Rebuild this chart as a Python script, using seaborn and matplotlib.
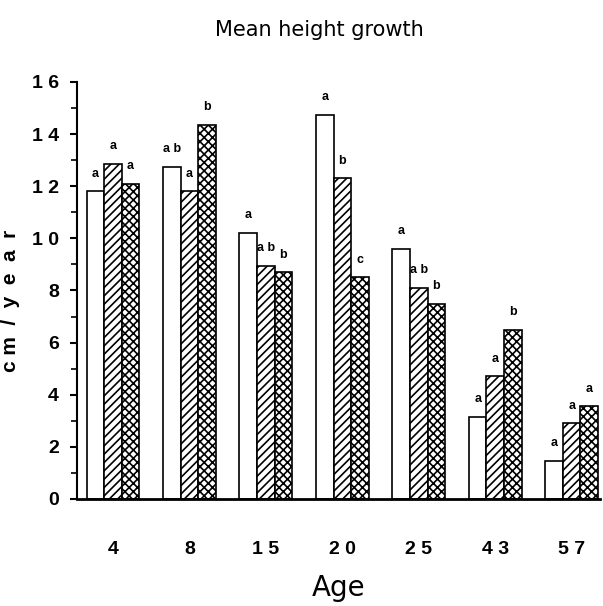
import matplotlib
matplotlib.use("Agg")
import matplotlib.pyplot as plt
import seaborn as sns
import pandas as pd
from matplotlib.ticker import MultipleLocator, FixedLocator

ages = ["4", "8", "15", "20", "25", "43", "57"]
age_labels = ["4", "8", "1 5", "2 0", "2 5", "4 3", "5 7"]
series_names = ["open", "hatched", "cross"]
open_vals = [11.8, 12.75, 10.2, 14.75, 9.6, 3.15, 1.45]
hatched_vals = [12.85, 11.8, 8.95, 12.3, 8.1, 4.7, 2.9]
cross_vals = [12.1, 14.35, 8.7, 8.5, 7.5, 6.5, 3.55]
open_letters = ["a", "a b", "a", "a", "a", "a", "a"]
hatched_letters = ["a", "a", "a b", "b", "a b", "a", "a"]
cross_letters = ["a", "b", "b", "c", "b", "b", "a"]
yticks = [0, 2, 4, 6, 8, 10, 12, 14, 16]
ytick_labels = ["0", "2", "4", "6", "8", "1 0", "1 2", "1 4", "1 6"]

rows = []
for s, vals in zip(series_names, [open_vals, hatched_vals, cross_vals]):
    for a, v in zip(ages, vals):
        rows.append({"age": a, "series": s, "value": v})
df = pd.DataFrame(rows)

sns.set_style("ticks")
plt.rcParams["hatch.linewidth"] = 1.2
plt.rcParams["text.color"] = "black"
plt.rcParams["axes.labelcolor"] = "black"
plt.rcParams["xtick.color"] = "black"
plt.rcParams["ytick.color"] = "black"
plt.rcParams["axes.edgecolor"] = "black"
narrow = ["Liberation Sans", "DejaVu Sans"]

fig = plt.figure(figsize=(6.03, 6.06), dpi=100)
ax = fig.add_axes([0.1277, 0.1766, 0.8673, 0.6881])

sns.barplot(data=df, x="age", y="value", hue="series", order=ages,
            hue_order=series_names, palette=["white", "white", "white"],
            edgecolor="black", linewidth=1.2, width=0.69, legend=False,
            errorbar=None, ax=ax)

hatches = [None, "////", "xxxx"]
letters = [open_letters, hatched_letters, cross_letters]
for cont, h, labs in zip(ax.containers, hatches, letters):
    for bar, lab in zip(cont, labs):
        if h:
            bar.set_hatch(h)
        ax.text(bar.get_x() + bar.get_width() / 2, bar.get_height() + 0.45, lab,
                ha="center", va="bottom", fontsize=9, fontweight="bold",
                family=narrow)

ax.set_xlim(-0.47, 6.37)
ax.set_ylim(0, 16)
ax.yaxis.set_major_locator(FixedLocator(yticks))
ax.set_yticklabels(ytick_labels, fontsize=14, fontweight="bold", family=narrow)
ax.yaxis.set_minor_locator(MultipleLocator(1))
ax.set_xticks(range(len(ages)))
ax.set_xticklabels(age_labels, fontsize=14, fontweight="bold", family=narrow)
ax.tick_params(axis="x", length=0, pad=30)
ax.tick_params(axis="y", which="major", length=5, width=1.5, direction="out", pad=8)
ax.tick_params(axis="y", which="minor", length=4, width=1.2, direction="out")

for side in ["top", "right"]:
    ax.spines[side].set_visible(False)
ax.spines["left"].set_linewidth(1.5)
ax.spines["bottom"].set_linewidth(2)

ax.set_xlabel("Age", fontsize=20, labelpad=12)
ax.set_ylabel("c m  /  y  e  a  r", fontsize=15, fontweight="bold", family=narrow)
ax.yaxis.set_label_coords(-0.109, 0.475)
fig.text(0.53, 0.95, "Mean height growth", ha="center", va="center", fontsize=15)

fig.savefig("out.png", dpi=100)
